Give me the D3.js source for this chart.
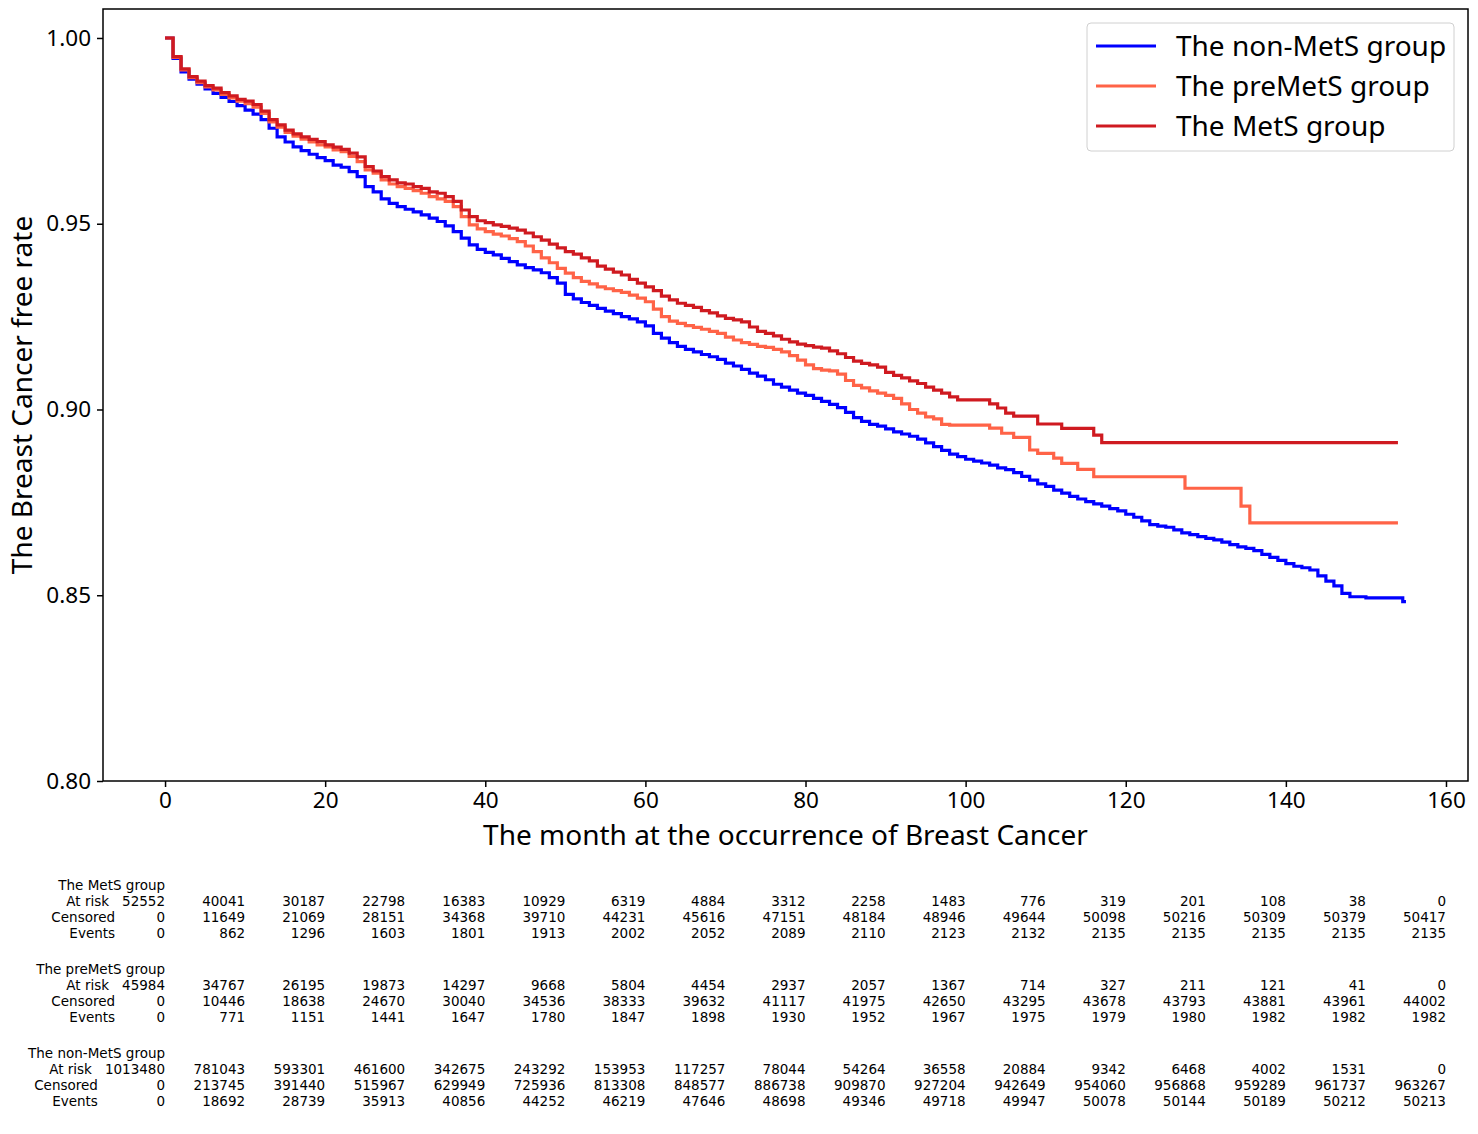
<!DOCTYPE html>
<html><head><meta charset="utf-8">
<script src="https://cdn.jsdelivr.net/npm/d3@7"></script>
<style>
html,body{margin:0;padding:0;background:#fff;}
svg{display:block;font-family:"Noto Sans","DejaVu Sans",sans-serif;}
</style></head>
<body>
<svg id="chart" width="1478" height="1134"></svg>
<script>
// ---------------- DATA ----------------
const groups = ["The non-MetS group", "The preMetS group", "The MetS group"];
const colors = ["#0000ff", "#ff6347", "#cf1a20"];

const nonMetsTimes = [0,1,2,3,4,5,6,7,8,9,10,11,12,13,14,15,16,17,18,19,20,21,22,23,24,25,26,27,28,29,30,31,32,33,34,35,36,37,38,39,40,41,42,43,44,45,46,47,48,49,50,51,52,53,54,55,56,57,58,59,60,61,62,63,64,65,66,67,68,69,70,71,72,73,74,75,76,77,78,79,80,81,82,83,84,85,86,87,88,89,90,91,92,93,94,95,96,97,98,99,100,101,102,103,104,105,106,107,108,109,110,111,112,113,114,115,116,117,118,119,120,121,122,123,124,125,126,127,128,129,130,131,132,133,134,135,136,137,138,139,140,141,142,143,144,145,146,147,148,150,154.6,155];
const nonMetsSurv = [1.0,0.9945,0.9909,0.9889,0.9876,0.9863,0.9851,0.9840,0.9829,0.9818,0.9806,0.9795,0.9780,0.9757,0.9734,0.9720,0.9707,0.9697,0.9687,0.9678,0.9670,0.9658,0.9652,0.9640,0.9627,0.9600,0.9586,0.9567,0.9555,0.9546,0.9539,0.9532,0.9524,0.9515,0.9506,0.9494,0.9479,0.9461,0.9443,0.9431,0.9423,0.9416,0.9407,0.9398,0.9389,0.9382,0.9376,0.9368,0.9355,0.9340,0.9310,0.9298,0.9288,0.9280,0.9272,0.9265,0.9258,0.9250,0.9244,0.9236,0.9225,0.9205,0.9192,0.9180,0.9170,0.9162,0.9155,0.9148,0.9142,0.9135,0.9125,0.9117,0.9108,0.9098,0.9090,0.9080,0.9068,0.9060,0.9052,0.9044,0.9038,0.9030,0.9022,0.9014,0.9005,0.8992,0.8978,0.8968,0.8960,0.8955,0.8948,0.8940,0.8934,0.8928,0.8920,0.8910,0.8900,0.8890,0.8880,0.8873,0.8866,0.8861,0.8856,0.8850,0.8843,0.8838,0.8830,0.8820,0.8810,0.8800,0.8793,0.8783,0.8775,0.8766,0.8759,0.8752,0.8746,0.8740,0.8733,0.8727,0.8718,0.8710,0.8700,0.8690,0.8686,0.8683,0.8676,0.8668,0.8663,0.8658,0.8653,0.8649,0.8643,0.8636,0.8630,0.8626,0.8620,0.8610,0.8602,0.8594,0.8585,0.8578,0.8574,0.8568,0.8552,0.8538,0.8525,0.8505,0.8496,0.8493,0.8483,0.8483];

const preMetsTimes = [0,1,2,3,4,5,6,7,8,9,10,11,12,13,14,15,16,17,18,19,20,21,22,23,24,25,26,27,28,29,30,31,32,33,34,35,36,37,38,39,40,41,42,43,44,45,46,47,48,49,50,51,52,53,54,55,56,57,58,59,60,61,62,63,64,65,66,67,68,69,70,71,72,73,74,75,76,77,78,79,80,81,82,83,84,85,86,87,88,89,90,91,92,93,94,95,96,97,98,103,104.5,106,108,109,111,112,114,116,127.4,134.4,135.5,154];
const preMetsSurv = [1.0,0.9948,0.9914,0.9893,0.9880,0.9868,0.9860,0.9848,0.9839,0.9830,0.9823,0.9814,0.9797,0.9774,0.9760,0.9746,0.9736,0.9728,0.9720,0.9712,0.9707,0.9699,0.9694,0.9681,0.9667,0.9645,0.9636,0.9618,0.9607,0.9600,0.9595,0.9589,0.9582,0.9573,0.9567,0.9560,0.9546,0.9519,0.9497,0.9486,0.9479,0.9472,0.9467,0.9460,0.9452,0.9440,0.9425,0.9408,0.9395,0.9380,0.9367,0.9355,0.9345,0.9338,0.9330,0.9325,0.9320,0.9315,0.9308,0.9300,0.9290,0.9270,0.9250,0.9238,0.9232,0.9226,0.9221,0.9216,0.9210,0.9205,0.9195,0.9187,0.9180,0.9175,0.9170,0.9167,0.9162,0.9155,0.9145,0.9133,0.9120,0.9110,0.9106,0.9104,0.9095,0.9078,0.9065,0.9058,0.9050,0.9044,0.9038,0.9030,0.9015,0.9000,0.8990,0.8980,0.8975,0.8960,0.8958,0.8950,0.8936,0.8925,0.8891,0.8882,0.8869,0.8855,0.8839,0.8819,0.8788,0.8740,0.8695,0.8695];

const metsTimes = [0,1,2,3,4,5,6,7,8,9,10,11,12,13,14,15,16,17,18,19,20,21,22,23,24,25,26,27,28,29,30,31,32,33,34,35,36,37,38,39,40,41,42,43,44,45,46,47,48,49,50,51,52,53,54,55,56,57,58,59,60,61,62,63,64,65,66,67,68,69,70,71,72,73,74,75,76,77,78,79,80,81,82,83,84,85,86,87,88,89,90,91,92,93,94,95,96,97,98,99,103,104,105,106,109,112,116,117,154];
const metsSurv = [1.0,0.9950,0.9917,0.9896,0.9884,0.9872,0.9865,0.9853,0.9844,0.9835,0.9830,0.9821,0.9803,0.9780,0.9766,0.9752,0.9742,0.9734,0.9727,0.9721,0.9712,0.9706,0.9700,0.9690,0.9680,0.9654,0.9642,0.9627,0.9618,0.9610,0.9607,0.9600,0.9595,0.9586,0.9582,0.9573,0.9560,0.9537,0.9519,0.9508,0.9503,0.9497,0.9493,0.9488,0.9483,0.9475,0.9465,0.9456,0.9445,0.9435,0.9425,0.9418,0.9408,0.9400,0.9386,0.9378,0.9370,0.9362,0.9350,0.9340,0.9330,0.9320,0.9305,0.9295,0.9286,0.9280,0.9275,0.9266,0.9260,0.9252,0.9245,0.9241,0.9236,0.9222,0.9210,0.9205,0.9198,0.9189,0.9182,0.9176,0.9172,0.9168,0.9165,0.9158,0.9150,0.9140,0.9130,0.9124,0.9120,0.9114,0.9100,0.9092,0.9085,0.9077,0.9070,0.9060,0.9052,0.9044,0.9034,0.9026,0.9015,0.9004,0.8990,0.8982,0.8961,0.8949,0.8931,0.8911,0.8911];

const xTicks = [0,20,40,60,80,100,120,140,160];
const yTicks = [0.80,0.85,0.90,0.95,1.00];
const tableTimes = [0,10,20,30,40,50,60,70,80,90,100,110,120,130,140,150,160];
const rowLabels = ["At risk","Censored","Events"];

const tableGroups = ["The MetS group","The preMetS group","The non-MetS group"];
const metsAtRisk   = [52552,40041,30187,22798,16383,10929,6319,4884,3312,2258,1483,776,319,201,108,38,0];
const metsCens     = [0,11649,21069,28151,34368,39710,44231,45616,47151,48184,48946,49644,50098,50216,50309,50379,50417];
const metsEvents   = [0,862,1296,1603,1801,1913,2002,2052,2089,2110,2123,2132,2135,2135,2135,2135,2135];
const preAtRisk    = [45984,34767,26195,19873,14297,9668,5804,4454,2937,2057,1367,714,327,211,121,41,0];
const preCens      = [0,10446,18638,24670,30040,34536,38333,39632,41117,41975,42650,43295,43678,43793,43881,43961,44002];
const preEvents    = [0,771,1151,1441,1647,1780,1847,1898,1930,1952,1967,1975,1979,1980,1982,1982,1982];
const nonAtRisk    = [1013480,781043,593301,461600,342675,243292,153953,117257,78044,54264,36558,20884,9342,6468,4002,1531,0];
const nonCens      = [0,213745,391440,515967,629949,725936,813308,848577,886738,909870,927204,942649,954060,956868,959289,961737,963267];
const nonEvents    = [0,18692,28739,35913,40856,44252,46219,47646,48698,49346,49718,49947,50078,50144,50189,50212,50213];

// ---------------- DRAW ----------------
const FONT = '"Noto Sans","DejaVu Sans",sans-serif';
const svg = d3.select("#chart");
const L = 103, R = 1468, T = 9, B = 781;
const x = d3.scaleLinear().domain([-7.75, 162.75]).range([L, R]);
const y = d3.scaleLinear().domain([0.80, 1.0078]).range([B, T]);

const series = [
  {name: groups[0], color: colors[0], t: nonMetsTimes, s: nonMetsSurv},
  {name: groups[1], color: colors[1], t: preMetsTimes, s: preMetsSurv},
  {name: groups[2], color: colors[2], t: metsTimes, s: metsSurv}
];

const line = d3.line().x(d => x(d[0])).y(d => y(d[1])).curve(d3.curveStepAfter);
svg.append("clipPath").attr("id","clip").append("rect")
  .attr("x", L).attr("y", T).attr("width", R-L).attr("height", B-T);
const plot = svg.append("g").attr("clip-path","url(#clip)");
series.forEach(sr => {
  const pts = sr.t.map((t,i) => [t, sr.s[i]]);
  plot.append("path").datum(pts).attr("d", line)
    .attr("fill","none").attr("stroke", sr.color).attr("stroke-width", 3.2)
    .attr("stroke-linejoin","miter");
});

// axes
const xAxis = d3.axisBottom(x).tickValues(xTicks).tickSize(6).tickPadding(4).tickFormat(d3.format("d"));
const yAxis = d3.axisLeft(y).tickValues(yTicks).tickSize(6).tickPadding(6).tickFormat(d3.format(".2f"));
const gx = svg.append("g").attr("transform", `translate(0,${B})`).call(xAxis);
const gy = svg.append("g").attr("transform", `translate(${L},0)`).call(yAxis);
[gx, gy].forEach(g => {
  g.select(".domain").remove();
  g.selectAll(".tick line").attr("stroke","#000").attr("stroke-width",1.5);
  g.selectAll(".tick text").attr("font-size", 22.5).attr("fill","#000").attr("font-family", FONT);
});
gx.selectAll(".tick text").attr("dy","0.76em");
svg.append("rect").attr("x", L).attr("y", T).attr("width", R-L).attr("height", B-T)
  .attr("fill","none").attr("stroke","#000").attr("stroke-width",1.5);

// axis labels
svg.append("text").attr("x", (L+R)/2).attr("y", 845).attr("text-anchor","middle")
  .attr("font-size", 28).text("The month at the occurrence of Breast Cancer");
svg.append("text").attr("transform", `translate(32,${(T+B)/2}) rotate(-90)`)
  .attr("text-anchor","middle").attr("font-size", 28).text("The Breast Cancer free rate");

// legend
const lg = svg.append("g");
lg.append("rect").attr("x", 1087).attr("y", 23).attr("width", 367).attr("height", 128)
  .attr("rx", 4).attr("fill","#fff").attr("fill-opacity",0.8).attr("stroke","#d0d0d0").attr("stroke-width",1);
series.forEach((sr,i) => {
  const yy = 46 + i*40;
  lg.append("line").attr("x1",1096).attr("x2",1156).attr("y1",yy).attr("y2",yy)
    .attr("stroke", sr.color).attr("stroke-width",3.2);
  lg.append("text").attr("x",1176).attr("y",yy+10).attr("font-size",28).text(sr.name);
});

// at-risk table
const tableData = [
  [metsAtRisk, metsCens, metsEvents],
  [preAtRisk, preCens, preEvents],
  [nonAtRisk, nonCens, nonEvents]
];
const tg = svg.append("g").attr("font-size", 13.5).attr("fill","#000")
  .attr("font-family", '"DejaVu Sans","Noto Sans",sans-serif');
tableGroups.forEach((gName, gi) => {
  const baseY = 890 + gi*84;
  tg.append("text").attr("x", x(0)).attr("y", baseY).attr("text-anchor","end").text(gName);
  const maxFirst = d3.max(tableData[gi], r => String(r[0]).length);
  const tmp = tg.append("text").text("0".repeat(maxFirst));
  const w = tmp.node().getComputedTextLength(); tmp.remove();
  rowLabels.forEach((lab, ri) => {
    const yy = baseY + 16*(ri+1);
    const gap = ri === 0 ? 13 : 7;
    tg.append("text").attr("x", x(0) - w - gap).attr("y", yy).attr("text-anchor","end").text(lab);
    tableTimes.forEach((t, ci) => {
      tg.append("text").attr("x", x(t)).attr("y", yy).attr("text-anchor","end")
        .text(tableData[gi][ri][ci]);
    });
  });
});
</script>
</body></html>
